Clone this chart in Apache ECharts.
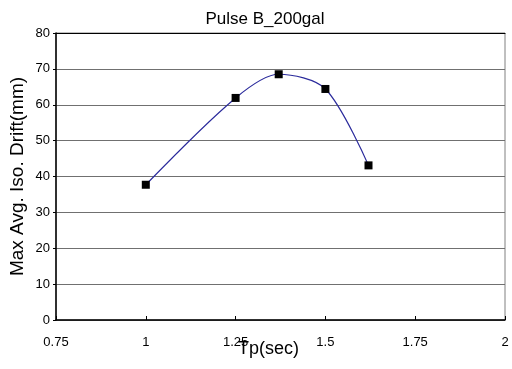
<!DOCTYPE html>
<html>
<head>
<meta charset="utf-8">
<script src="https://cdn.jsdelivr.net/npm/echarts@6/dist/echarts.min.js"></script>
<style>
  html, body { margin: 0; padding: 0; background: #fff; }
  #chart { width: 512px; height: 369px; }
</style>
</head>
<body>
<div id="chart"></div>
<script>
// Pulse period vs. peak average isolator drift
const tpValues = [1, 1.25, 1.37, 1.5, 1.62];
const driftValues = [37.7, 61.9, 68.5, 64.4, 43.1];

const xMin = 0.75, xMax = 2, xStep = 0.25;
const yMin = 0, yMax = 80, yStep = 10;

const font = '"Liberation Sans", Arial, sans-serif';

const chart = echarts.init(document.getElementById('chart'), null, { renderer: 'canvas' });

chart.setOption({
  animation: false,
  backgroundColor: '#ffffff',
  title: {
    text: 'Pulse B_200gal',
    left: 260,
    textAlign: 'center',
    top: 6,
    textStyle: { fontFamily: font, fontSize: 17, fontWeight: 'normal', color: '#000' }
  },
  grid: {
    left: 56, right: 7, top: 33, bottom: 49,
    outerBoundsMode: 'none',
    containLabel: false,
    show: true, borderColor: '#808080', borderWidth: 1, backgroundColor: '#fff'
  },
  xAxis: [{
    type: 'value',
    min: xMin, max: xMax, interval: xStep,
    name: 'Tp(sec)',
    nameLocation: 'middle',
    nameGap: 20,
    nameMoveOverlap: false,
    nameTextStyle: { fontFamily: font, fontSize: 18, color: '#000', padding: [0, 24, 0, 0], verticalAlign: 'top' },
    axisLine: { show: true, lineStyle: { color: '#000', width: 1.5 } },
    axisTick: { show: true, inside: true, length: 4, lineStyle: { color: '#000' } },
    axisLabel: { fontFamily: font, fontSize: 13, color: '#000', margin: 16 },
    splitLine: { show: false }
  }, {
    type: 'value',
    position: 'top',
    min: xMin, max: xMax, interval: xStep,
    axisLine: { show: true, lineStyle: { color: '#000', width: 1 } },
    axisTick: { show: false },
    axisLabel: { show: false },
    splitLine: { show: false }
  }],
  yAxis: {
    type: 'value',
    min: yMin, max: yMax, interval: yStep,
    name: 'Max Avg. Iso. Drift(mm)',
    nameLocation: 'middle',
    nameGap: 29,
    nameMoveOverlap: false,
    nameTextStyle: { fontFamily: font, fontSize: 19, color: '#000' },
    axisLine: { show: true, lineStyle: { color: '#000', width: 1.5 } },
    axisTick: { show: true, inside: false, length: 3, lineStyle: { color: '#000' } },
    axisLabel: { fontFamily: font, fontSize: 13, color: '#000', margin: 6 },
    splitLine: { show: true, lineStyle: { color: '#707070', width: 1.2 } }
  },
  series: [{
    type: 'line',
    data: tpValues.map((t, i) => [t, driftValues[i]]),
    smooth: 0.3,
    symbol: 'rect',
    symbolSize: 8,
    itemStyle: { color: '#000' },
    lineStyle: { color: '#2b2b9c', width: 1.2 }
  }]
});
</script>
</body>
</html>
